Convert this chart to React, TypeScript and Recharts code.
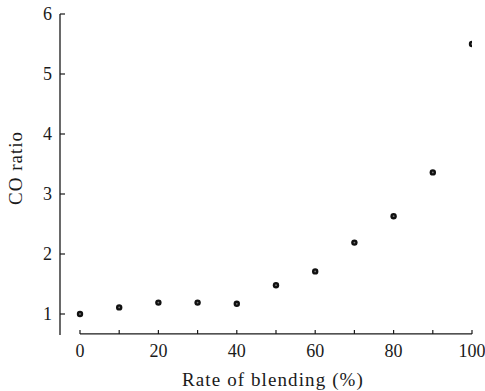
import { ReferenceLine, Scatter, ScatterChart, XAxis, YAxis } from "recharts";

const blendRates = [0, 10, 20, 30, 40, 50, 60, 70, 80, 90, 100];
const coRatios = [1.0, 1.11, 1.19, 1.19, 1.17, 1.48, 1.71, 2.19, 2.63, 3.36, 5.5];
const xTicks = [0, 10, 20, 30, 40, 50, 60, 70, 80, 90, 100];
const yTicks = [1, 2, 3, 4, 5, 6];

const INK = "#1a1a1a";
const FONT = "Liberation Serif, DejaVu Serif, serif";
const textStyle = { fontFamily: FONT };

const data = blendRates.map((rate, i) => ({ rate, ratio: coRatios[i] }));

function XTick({ x, y, payload }: any) {
  const v = payload.value;
  return (
    <g>
      <line x1={x} x2={x} y1={y - 1} y2={y - 5} stroke={INK} strokeWidth={1.2} />
      {v % 20 === 0 && (
        <text x={x} y={y + 22} textAnchor="middle" fill={INK} fontSize={18} style={textStyle}>
          {v}
        </text>
      )}
    </g>
  );
}

function YTick({ x, y, payload }: any) {
  return (
    <g>
      <line x1={x} x2={x + 5} y1={y} y2={y} stroke={INK} strokeWidth={1.2} />
      <text x={x - 8} y={y + 6} textAnchor="end" fill={INK} fontSize={18} style={textStyle}>
        {payload.value}
      </text>
    </g>
  );
}

function Dot({ cx, cy }: any) {
  return (
    <g>
      <circle cx={cx} cy={cy} r={3.2} fill="#111" />
      <circle cx={cx} cy={cy} r={0.9} fill="#777" />
    </g>
  );
}

export default function App() {
  return (
    <div style={{ position: "fixed", left: 0, top: 0, background: "#fff", fontFamily: FONT }}>
      <ScatterChart width={485} height={391} margin={{ top: 14, right: 13, bottom: 0, left: 0 }}>
        <XAxis
          type="number"
          dataKey="rate"
          domain={[-5.1, 100]}
          ticks={xTicks}
          allowDataOverflow
          height={56}
          axisLine={false}
          tickLine={false}
          tickSize={0}
          tickMargin={0}
          tick={<XTick />}
          interval={0}
          label={{
            content: ({ viewBox }: any) => (
              <text
                x={273}
                y={viewBox.y + 51}
                textAnchor="middle"
                fill={INK}
                fontSize={19}
                letterSpacing={1.1}
                style={textStyle}
              >
                Rate of blending (%)
              </text>
            ),
          }}
        />
        <YAxis
          type="number"
          dataKey="ratio"
          domain={[0.65, 6]}
          ticks={yTicks}
          allowDataOverflow
          width={60}
          axisLine={{ stroke: INK, strokeWidth: 1.3 }}
          tickLine={false}
          tickSize={0}
          tickMargin={0}
          tick={<YTick />}
          interval={0}
          label={{
            content: () => (
              <text
                x={22}
                y={168}
                transform="rotate(-90 22 168)"
                textAnchor="middle"
                fill={INK}
                fontSize={19}
                letterSpacing={1}
                style={textStyle}
              >
                CO ratio
              </text>
            ),
          }}
        />
        <ReferenceLine
          segment={[
            { x: 0, y: 0.67 },
            { x: 100, y: 0.67 },
          ]}
          stroke={INK}
          strokeWidth={1.3}
          ifOverflow="visible"
        />
        <Scatter data={data} shape={<Dot />} isAnimationActive={false} />
      </ScatterChart>
    </div>
  );
}
